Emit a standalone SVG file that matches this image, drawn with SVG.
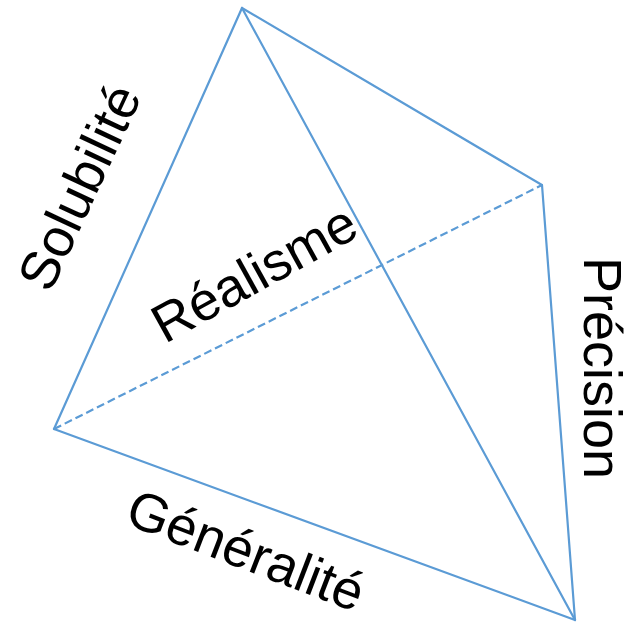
<svg xmlns="http://www.w3.org/2000/svg" width="628" height="622" viewBox="0 0 628 622">
  <style>
    .edge { stroke: #5b9bd5; stroke-width: 2.2; fill: none; stroke-linecap: round; }
    .hidden { stroke-dasharray: 8 4; stroke-linecap: butt; }
    .label { font-family: "Liberation Sans", Arial, sans-serif; font-size: 54px; fill: #000; text-anchor: middle; }
  </style>
  <rect width="628" height="622" fill="#fff"/>
  <!-- tetrahedron edges -->
  <g id="connectors">
    <line class="edge" x1="242" y1="8" x2="54" y2="429"/>
    <line class="edge" x1="242" y1="8" x2="542" y2="185"/>
    <line class="edge" x1="242" y1="8" x2="575" y2="620"/>
    <line class="edge" x1="542" y1="185" x2="575" y2="620"/>
    <line class="edge" x1="54" y1="429" x2="575" y2="620"/>
    <line class="edge hidden" x1="54" y1="429" x2="542" y2="185"/>
  </g>
  <g id="solubilite">
    <text class="label" transform="translate(79,187) rotate(-65)" y="19">Solubilité</text>
  </g>
  <g id="realisme">
    <text class="label" transform="translate(254,273) rotate(-29)" y="19">Réalisme</text>
  </g>
  <g id="precision">
    <text class="label" transform="translate(603,368) rotate(90)" y="19">Précision</text>
  </g>
  <g id="generalite">
    <text class="label" transform="translate(246,550) rotate(21)" y="19">Généralité</text>
  </g>
</svg>
